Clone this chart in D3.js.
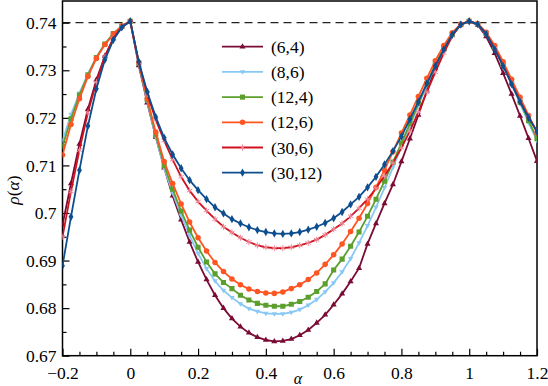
<!DOCTYPE html>
<html>
<head>
<meta charset="utf-8">
<script src="https://cdn.jsdelivr.net/npm/d3@7"></script>
<style>
  body { margin: 0; background: #fff; }
  svg text { font-family: "Liberation Serif", "DejaVu Serif", serif; }
</style>
</head>
<body>
<div id="chart"></div>
<script>
// alpha grid, -0.2 .. 1.2 in steps of 0.025
const alphas = d3.range(57).map(i => +(-0.2 + 0.025 * i).toFixed(3));

const labels = ["(6,4)", "(8,6)", "(12,4)", "(12,6)", "(30,6)", "(30,12)"];

const rho_6_4 = [
  0.6975, 0.7062, 0.7145, 0.7218, 0.7280, 0.7330, 0.7367, 0.7392, 0.7403,
  0.7310, 0.7232, 0.7160, 0.7095, 0.7036, 0.6986, 0.6939, 0.6897, 0.6860,
  0.6827, 0.6800, 0.6778, 0.6761, 0.6748, 0.6739, 0.6733, 0.6730, 0.6731,
  0.6735, 0.6743, 0.6754, 0.6769, 0.6786, 0.6807, 0.6830, 0.6856, 0.6884,
  0.6935, 0.6978, 0.7020, 0.7060, 0.7108, 0.7156, 0.7206, 0.7257, 0.7305,
  0.7344, 0.7375, 0.7396, 0.7403, 0.7395, 0.7371, 0.7336, 0.7294, 0.7250,
  0.7204, 0.7157, 0.7109];
const rho_8_6 = [
  0.7152, 0.7207, 0.7252, 0.7293, 0.7328, 0.7356, 0.7377, 0.7393, 0.7403,
  0.7314, 0.7235, 0.7160, 0.7094, 0.7042, 0.6995, 0.6953, 0.6915, 0.6883,
  0.6857, 0.6837, 0.6822, 0.6809, 0.6799, 0.6793, 0.6789, 0.6788, 0.6788,
  0.6791, 0.6797, 0.6806, 0.6818, 0.6834, 0.6853, 0.6876, 0.6904, 0.6937,
  0.6973, 0.7012, 0.7053, 0.7096, 0.7139, 0.7182, 0.7225, 0.7268, 0.7309,
  0.7345, 0.7375, 0.7396, 0.7403, 0.7396, 0.7376, 0.7346, 0.7310, 0.7270,
  0.7230, 0.7190, 0.7152];
const rho_12_4 = [
  0.7140, 0.7198, 0.7248, 0.7290, 0.7327, 0.7355, 0.7377, 0.7393, 0.7403,
  0.7315, 0.7238, 0.7165, 0.7100, 0.7050, 0.7004, 0.6964, 0.6928, 0.6897,
  0.6872, 0.6854, 0.6841, 0.6827, 0.6817, 0.6810, 0.6806, 0.6804, 0.6804,
  0.6808, 0.6814, 0.6823, 0.6835, 0.6851, 0.6880, 0.6903, 0.6930, 0.6960,
  0.6993, 0.7029, 0.7067, 0.7107, 0.7147, 0.7188, 0.7230, 0.7272, 0.7312,
  0.7347, 0.7376, 0.7396, 0.7403, 0.7397, 0.7377, 0.7348, 0.7312, 0.7273,
  0.7233, 0.7194, 0.7156];
const rho_12_6 = [
  0.7122, 0.7186, 0.7240, 0.7287, 0.7325, 0.7354, 0.7376, 0.7393, 0.7403,
  0.7316, 0.7240, 0.7170, 0.7108, 0.7062, 0.7019, 0.6981, 0.6948, 0.6920,
  0.6896, 0.6877, 0.6861, 0.6849, 0.6840, 0.6835, 0.6832, 0.6831, 0.6834,
  0.6841, 0.6849, 0.6860, 0.6874, 0.6892, 0.6912, 0.6935, 0.6961, 0.6989,
  0.7020, 0.7054, 0.7090, 0.7129, 0.7168, 0.7206, 0.7245, 0.7283, 0.7320,
  0.7352, 0.7379, 0.7397, 0.7403, 0.7398, 0.7380, 0.7352, 0.7318, 0.7281,
  0.7243, 0.7205, 0.7168];
const rho_30_6 = [
  0.6950, 0.7045, 0.7132, 0.7211, 0.7275, 0.7328, 0.7367, 0.7392, 0.7403,
  0.7316, 0.7250, 0.7196, 0.7152, 0.7112, 0.7076, 0.7047, 0.7024, 0.7005,
  0.6987, 0.6971, 0.6959, 0.6948, 0.6939, 0.6932, 0.6928, 0.6926, 0.6926,
  0.6928, 0.6932, 0.6937, 0.6944, 0.6954, 0.6966, 0.6978, 0.6993, 0.7010,
  0.7029, 0.7052, 0.7078, 0.7105, 0.7137, 0.7172, 0.7212, 0.7254, 0.7296,
  0.7336, 0.7372, 0.7396, 0.7403, 0.7397, 0.7377, 0.7346, 0.7311, 0.7273,
  0.7236, 0.7202, 0.7172];
const rho_30_12 = [
  0.6889, 0.6992, 0.7090, 0.7183, 0.7261, 0.7322, 0.7364, 0.7390, 0.7403,
  0.7318, 0.7255, 0.7202, 0.7158, 0.7123, 0.7094, 0.7069, 0.7048, 0.7029,
  0.7012, 0.6999, 0.6987, 0.6978, 0.6970, 0.6964, 0.6960, 0.6957, 0.6956,
  0.6957, 0.6960, 0.6965, 0.6971, 0.6979, 0.6989, 0.7002, 0.7018, 0.7034,
  0.7054, 0.7076, 0.7102, 0.7130, 0.7161, 0.7197, 0.7234, 0.7272, 0.7309,
  0.7344, 0.7375, 0.7396, 0.7403, 0.7397, 0.7376, 0.7344, 0.7309, 0.7271,
  0.7234, 0.7200, 0.7171];

const refLine = 0.74;
const xTicks = [-0.2, 0, 0.2, 0.4, 0.6, 0.8, 1, 1.2];
const yTicks = [0.67, 0.68, 0.69, 0.7, 0.71, 0.72, 0.73, 0.74];

const seriesData = [rho_6_4, rho_8_6, rho_12_4, rho_12_6, rho_30_6, rho_30_12];

// colours and marker shapes per series
const lineColors = ["#7a0b35", "#88c8f5", "#5b9f2d", "#ff5522", "#d0121e", "#0d4e8e"];
const markColors = ["#7a0b35", "#88c8f5", "#5b9f2d", "#ff5522", "#f08a9a", "#0d4e8e"];

const triDown = {
  draw(ctx, size) {
    const s = Math.sqrt(size / 0.433) / 2;
    ctx.moveTo(0, s);
    ctx.lineTo(s * 0.95, -s * 0.6);
    ctx.lineTo(-s * 0.95, -s * 0.6);
    ctx.closePath();
  }
};
const shapes = [
  d3.symbol(d3.symbolTriangle, 16),
  d3.symbol(triDown, 14),
  d3.symbol(d3.symbolSquare, 26),
  d3.symbol(d3.symbolCircle, 24),
  d3.symbol(d3.symbolAsterisk, 26),
  d3.symbol(d3.symbolDiamond, 20)
];

const width = 548, height = 386;
const mLeft = 62.5, mRight = 537, mBottom = 355.7, mTop = 1;
const serif = '"Liberation Serif", "DejaVu Serif", serif';

const svg = d3.select("#chart").append("svg")
  .attr("width", width)
  .attr("height", height);

const x = d3.scaleLinear().domain([-0.2, 1.2]).range([mLeft, mRight]);
const y = d3.scaleLinear().domain([0.67, 0.74]).range([mBottom, 22.7]);

// clip to the frame
svg.append("clipPath").attr("id", "clip")
  .append("rect")
  .attr("x", mLeft).attr("y", mTop)
  .attr("width", mRight - mLeft).attr("height", mBottom - mTop);

// reference dashed line
svg.append("line")
  .attr("x1", mLeft).attr("x2", mRight)
  .attr("y1", y(refLine)).attr("y2", y(refLine))
  .attr("stroke", "#222")
  .attr("stroke-width", 1.3)
  .attr("stroke-dasharray", "8,5");

// axes with ticks pointing inwards
const xAxis = d3.axisBottom(x).tickValues(xTicks).tickSizeInner(-7).tickSizeOuter(0)
  .tickPadding(11).tickFormat(d => d < 0 ? "\u2212" + Math.abs(d) : d3.format("")(d));
const xMinor = d3.axisBottom(x).tickValues(d3.range(-0.2, 1.2001, 0.05).filter(v => Math.abs(Math.round(v * 5) - v * 5) > 1e-6))
  .tickSizeInner(-4).tickSizeOuter(0).tickFormat("");
const yAxis = d3.axisLeft(y).tickValues(yTicks).tickSizeInner(-7).tickSizeOuter(0)
  .tickPadding(6).tickFormat(d3.format(""));
const yMinor = d3.axisLeft(y).tickValues(d3.range(0.675, 0.745, 0.01))
  .tickSizeInner(-4).tickSizeOuter(0).tickFormat("");

function styleAxis(g) {
  g.attr("font-family", serif).attr("font-size", 17.5);
  g.select(".domain").remove();
  g.selectAll("line").attr("stroke", "#000").attr("stroke-width", 1.2);
  g.selectAll("text").attr("fill", "#000");
}

svg.append("g").attr("transform", `translate(0,${mBottom})`).call(xAxis).call(styleAxis);
svg.append("g").attr("transform", `translate(0,${mBottom})`).call(xMinor).call(styleAxis);
svg.append("g").attr("transform", `translate(${mLeft},0)`).call(yAxis).call(styleAxis);
svg.append("g").attr("transform", `translate(${mLeft},0)`).call(yMinor).call(styleAxis);

// frame
svg.append("rect")
  .attr("x", mLeft).attr("y", mTop)
  .attr("width", mRight - mLeft).attr("height", mBottom - mTop)
  .attr("fill", "none").attr("stroke", "#000").attr("stroke-width", 1.5);

// series
const line = d3.line().x((d, i) => x(alphas[i])).y(d => y(d));
const plot = svg.append("g").attr("clip-path", "url(#clip)");

seriesData.forEach((vals, k) => {
  const g = plot.append("g");
  g.append("path")
    .attr("d", line(vals))
    .attr("fill", "none")
    .attr("stroke", lineColors[k])
    .attr("stroke-width", 1.8);
  g.selectAll("path.mk")
    .data(vals)
    .enter().append("path")
    .attr("class", "mk")
    .attr("transform", (d, i) => `translate(${x(alphas[i])},${y(d)})`)
    .attr("d", shapes[k]())
    .attr("fill", markColors[k])
    .attr("stroke", k === 4 ? markColors[k] : "none")
    .attr("stroke-width", 1);
});

// legend
const legend = svg.append("g").attr("font-family", serif).attr("font-size", 17.5);
labels.forEach((lab, k) => {
  const ly = 46.7 + k * 25.2;
  legend.append("line")
    .attr("x1", 222).attr("x2", 263)
    .attr("y1", ly).attr("y2", ly)
    .attr("stroke", lineColors[k]).attr("stroke-width", 1.8);
  legend.append("path")
    .attr("transform", `translate(242.5,${ly})`)
    .attr("d", shapes[k]())
    .attr("fill", markColors[k])
    .attr("stroke", k === 4 ? markColors[k] : "none");
  legend.append("text")
    .attr("x", 271).attr("y", ly + 6)
    .text(lab);
});

// axis titles
svg.append("text")
  .attr("x", 298).attr("y", 384)
  .attr("text-anchor", "middle")
  .attr("font-family", serif)
  .attr("font-size", 16)
  .attr("font-style", "italic")
  .text("\u03b1");

const yt = svg.append("text")
  .attr("transform", "translate(19,190) rotate(-90)")
  .attr("text-anchor", "middle")
  .attr("font-family", serif)
  .attr("font-size", 17.5);
yt.append("tspan").attr("font-style", "italic").text("\u03c1");
yt.append("tspan").text("(");
yt.append("tspan").attr("font-style", "italic").text("\u03b1");
yt.append("tspan").text(")");
</script>
</body>
</html>
